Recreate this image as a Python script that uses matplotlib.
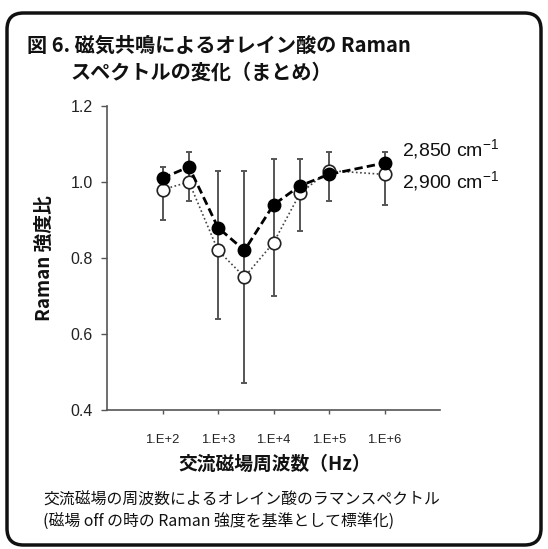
import matplotlib
matplotlib.use("Agg")
import matplotlib.pyplot as plt
from matplotlib.patches import FancyBboxPatch
import numpy as np

plt.rcParams['font.family'] = ['Noto Sans CJK JP', 'DejaVu Sans']

# Data
freq_hz = [1e2, 3e2, 1e3, 3e3, 1e4, 3e4, 1e5, 1e6]
ratio_2850 = [1.01, 1.04, 0.88, 0.82, 0.94, 0.99, 1.02, 1.05]
ratio_2900 = [0.98, 1.00, 0.82, 0.75, 0.84, 0.97, 1.03, 1.02]
bar_top = [1.04, 1.08, 1.03, 1.03, 1.06, 1.06, 1.08, 1.08]
bar_bottom = [0.90, 0.95, 0.64, 0.47, 0.70, 0.87, 0.95, 0.94]
xtick_vals = [1e2, 1e3, 1e4, 1e5, 1e6]
xtick_labels = ["1.E+2", "1.E+3", "1.E+4", "1.E+5", "1.E+6"]
ytick_vals = [0.4, 0.6, 0.8, 1.0, 1.2]
ytick_labels = ["0.4", "0.6", "0.8", "1.0", "1.2"]

W, H = 548, 549
fig = plt.figure(figsize=(W / 100, H / 100), dpi=100)

# rounded frame
frame = FancyBboxPatch((7 / W, 1 - 545 / H), (541 - 7) / W, (545 - 13) / H,
                       boxstyle="round,pad=0,rounding_size=0.03",
                       transform=fig.transFigure, facecolor='white',
                       edgecolor='#111111', linewidth=2.5, zorder=-5)
fig.patches.append(frame)

ax = fig.add_axes([107 / W, 1 - 410 / H, (440 - 107) / W, (410 - 106) / H])
ax.set_zorder(2)
ax.set_xscale('log')
ax.set_xlim(1e1, 1e7)
ax.set_ylim(0.4, 1.2)
ax.patch.set_alpha(0)

x = np.array(freq_hz)
top = np.array(bar_top)
bot = np.array(bar_bottom)
# error bars
ax.vlines(x, bot, top, colors='#555555', linewidth=1.4, zorder=1)
ax.plot(x, top, linestyle='none', marker='_', markersize=5, color='#555555',
        markeredgewidth=1.4, zorder=1)
ax.plot(x, bot, linestyle='none', marker='_', markersize=5, color='#555555',
        markeredgewidth=1.4, zorder=1)

ax.plot(x, ratio_2900, linestyle=(0, (1, 1.5)), color='#444444', linewidth=1.2,
        marker='o', markersize=9, markerfacecolor='white',
        markeredgecolor='#222222', markeredgewidth=1.2, zorder=3)
ax.plot(x, ratio_2850, linestyle=(0, (3, 1.5)), color='black', linewidth=2.0,
        marker='o', markersize=9, markerfacecolor='black',
        markeredgecolor='black', zorder=4)

ax.set_xticks(xtick_vals)
ax.set_xticklabels(xtick_labels, fontsize=9.4, color='#222222',
                   family=['Liberation Sans', 'DejaVu Sans'])
ax.xaxis.set_minor_locator(matplotlib.ticker.NullLocator())
ax.set_yticks(ytick_vals)
ax.set_yticklabels(ytick_labels, fontsize=11.5, color='#222222',
                   family=['Liberation Sans', 'DejaVu Sans'])
ax.tick_params(axis='y', direction='out', length=4, width=1, color='#555555', pad=6)
ax.tick_params(axis='x', direction='out', length=3, width=1, color='#555555', pad=14)
for s in ['top', 'right']:
    ax.spines[s].set_visible(False)
for s in ['left', 'bottom']:
    ax.spines[s].set_color('#555555')
    ax.spines[s].set_linewidth(1.2)

fig.text(44 / W, 1 - 258 / H, "Raman 強度比", rotation=90, ha='center', va='center',
         fontsize=13.5, fontweight='bold', color='#111111')
fig.text(275 / W, 1 - 464 / H, "交流磁場周波数（Hz）", ha='center', va='center',
         fontsize=13.5, fontweight='bold', color='#111111')

fig.text(402 / W, 1 - 150 / H, "2,850 cm$^{\\mathregular{-1}}$", ha='left', va='center',
         fontsize=14, color='#111111', family=['Liberation Sans', 'DejaVu Sans'])
fig.text(402 / W, 1 - 182 / H, "2,900 cm$^{\\mathregular{-1}}$", ha='left', va='center',
         fontsize=14, color='#111111', family=['Liberation Sans', 'DejaVu Sans'])

fig.text(27 / W, 1 - 45 / H, "図 6. 磁気共鳴によるオレイン酸の Raman", ha='left', va='center',
         fontsize=14.5, fontweight='bold', color='#111111')
fig.text(70 / W, 1 - 72 / H, "スペクトルの変化（まとめ）", ha='left', va='center',
         fontsize=14.5, fontweight='bold', color='#111111')

fig.text(43 / W, 1 - 500 / H, "交流磁場の周波数によるオレイン酸のラマンスペクトル", ha='left',
         va='center', fontsize=11.4, color='#111111')
fig.text(43 / W, 1 - 522 / H, "(磁場 off の時の Raman 強度を基準として標準化)", ha='left',
         va='center', fontsize=11.4, color='#111111')

fig.savefig("out.png", dpi=100)
